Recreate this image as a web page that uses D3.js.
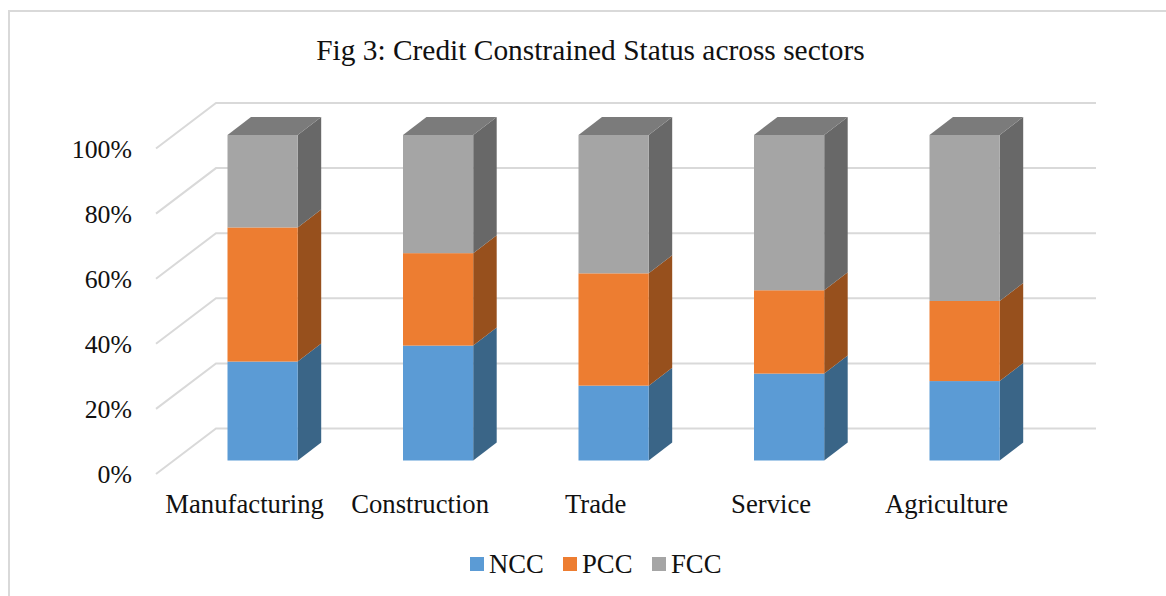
<!DOCTYPE html>
<html>
<head>
<meta charset="utf-8">
<script src="https://cdn.jsdelivr.net/npm/d3@7"></script>
<style>
    html, body { margin: 0; padding: 0; background: #fff; overflow: hidden; }
    text { font-family: "Liberation Serif", serif; fill: #111; }
    .grid { fill: none; stroke: #d9d9d9; stroke-width: 2; }
</style>
</head>
<body>
<svg class="chart"></svg>
<script>
var titleText = "Fig 3: Credit Constrained Status across sectors";
var categories = ["Manufacturing", "Construction", "Trade", "Service", "Agriculture"];
var seriesNames = ["NCC", "PCC", "FCC"];
var ncc = [30.4, 35.3, 23.0, 26.7, 24.4];
var pcc = [41.2, 28.4, 34.5, 25.6, 24.6];
var fcc = [28.4, 36.3, 42.5, 47.7, 51.0];
var tickValues = [0, 20, 40, 60, 80, 100];

var frontColors = {NCC: "#5b9bd5", PCC: "#ed7d31", FCC: "#a5a5a5"};
var sideColors = {NCC: "#3a6587", PCC: "#97501d", FCC: "#686868"};
var topColor = "#7b7b7b";

var width = 1166, height = 596;

var chart = d3.select(".chart")
    .attr("width", width)
    .attr("height", height)
    .style("display", "block");

// outer frame: only the top and left edges are in the picture
chart.append("path")
    .attr("d", "M9,596V11H1166")
    .attr("fill", "none")
    .attr("stroke", "#d9d9d9")
    .attr("stroke-width", 2);

chart.append("text")
    .attr("x", 590.5)
    .attr("y", 60)
    .attr("text-anchor", "middle")
    .style("font-size", "29.4px")
    .text(titleText);

var x = d3.scaleBand()
    .domain(categories)
    .range([174.85, 1052.35])
    .paddingInner(0.6)
    .paddingOuter(0.3);

var y = d3.scaleLinear().domain([0, 100]).range([460.5, 135]);

// depth of the bars, and where the walls sit relative to the bar fronts
var barDx = 23.5, barDy = -18;
var wallLeft = 156, wallBack = 216, wallRight = 1096;
var wallFrontDy = 13.5, wallBackDy = -32;

// Step 1. gridlines: diagonal on the side wall, flat on the back wall
chart.selectAll(".grid")
    .data(tickValues).enter().append("path")
    .attr("class", "grid")
    .attr("d", function(d) {
        return "M" + wallLeft + "," + (y(d) + wallFrontDy) +
            "L" + wallBack + "," + (y(d) + wallBackDy) + "H" + wallRight;
    });

// Step 2. y labels with an axis, only the text is kept
var yAxis = d3.axisLeft(y.copy().range([474.5, 149.5]))
    .tickValues(tickValues)
    .tickSize(0)
    .tickPadding(0)
    .tickFormat(function(d) { return d + "%"; });

var yg = chart.append("g")
    .attr("transform", "translate(132,0)")
    .call(yAxis);
yg.select(".domain").remove();
yg.selectAll("text")
    .style("font-family", "\"Liberation Serif\", serif")
    .style("font-size", "25.8px")
    .attr("fill", "#111");

// Step 3. stack and draw the bars
var rows = categories.map(function(c, i) {
    return {category: c, NCC: ncc[i], PCC: pcc[i], FCC: fcc[i]};
});
var stacked = d3.stack().keys(seriesNames)(rows);

var groups = chart.selectAll(".bar")
    .data(categories).enter().append("g")
    .attr("class", "bar");

groups.each(function(cat, i) {
    var g = d3.select(this);
    var x0 = x(cat), x1 = x0 + x.bandwidth();

    stacked.forEach(function(layer) {
        var lo = y(layer[i][0]), hi = y(layer[i][1]);

        g.append("path")
            .attr("fill", sideColors[layer.key])
            .attr("d", "M" + x1 + "," + lo + "L" + (x1 + barDx) + "," + (lo + barDy) +
                "V" + (hi + barDy) + "L" + x1 + "," + hi + "Z");

        g.append("rect")
            .attr("x", x0)
            .attr("y", hi)
            .attr("width", x.bandwidth())
            .attr("height", lo - hi)
            .attr("fill", frontColors[layer.key]);
    });

    // top cap
    var t = y(100);
    g.append("path")
        .attr("fill", topColor)
        .attr("d", "M" + x0 + "," + t + "L" + (x0 + barDx) + "," + (t + barDy) +
            "H" + (x1 + barDx) + "L" + x1 + "," + t + "Z");
});

// Step 4. category labels
chart.selectAll(".cat")
    .data(categories).enter().append("text")
    .attr("class", "cat")
    .attr("x", function(d) { return x(d) + x.bandwidth() / 2 - 18; })
    .attr("y", 513)
    .attr("text-anchor", "middle")
    .style("font-size", "26.7px")
    .text(function(d) { return d; });

// Step 5. legend
var legendX = d3.scaleOrdinal().domain(seriesNames).range([470, 563, 652]);

var legend = chart.selectAll(".legend")
    .data(seriesNames).enter().append("g")
    .attr("class", "legend")
    .attr("transform", function(d) { return "translate(" + legendX(d) + ",557)"; });

legend.append("rect")
    .attr("width", 14)
    .attr("height", 14)
    .attr("fill", function(d) { return frontColors[d]; });

legend.append("text")
    .attr("x", 19)
    .attr("y", 16)
    .style("font-size", "26.7px")
    .text(function(d) { return d; });
</script>
</body>
</html>
